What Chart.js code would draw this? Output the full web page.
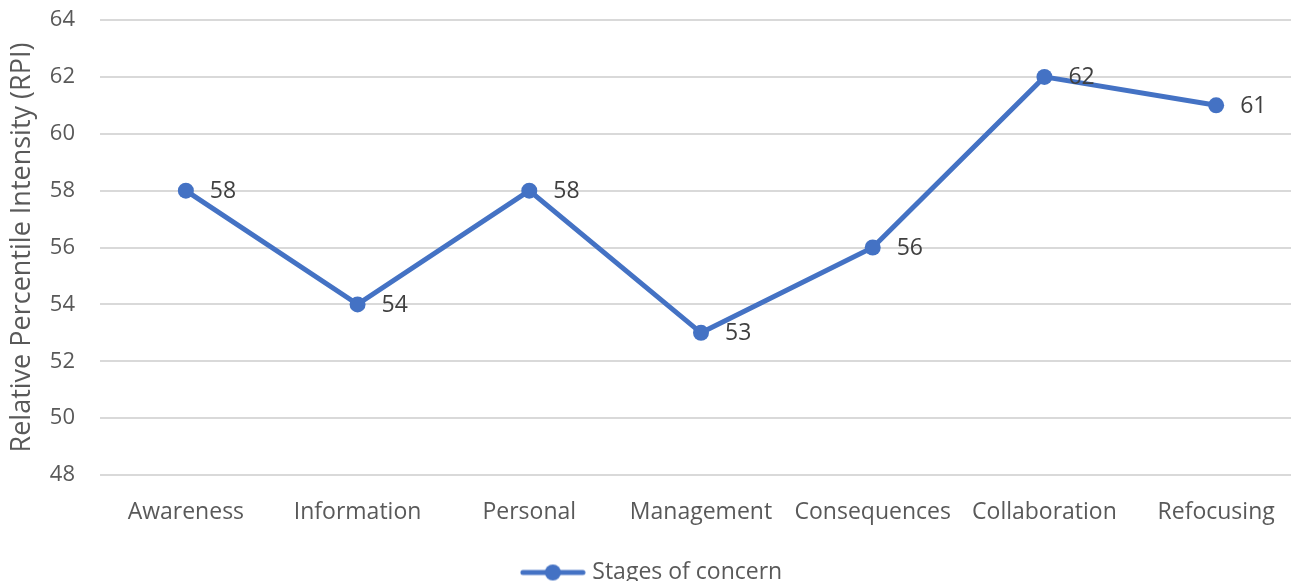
<!DOCTYPE html>
<html>
<head>
<meta charset="utf-8">
<script src="https://cdn.jsdelivr.net/npm/chart.js@4"></script>
<style>
  html, body { margin:0; padding:0; background:#fff; overflow:hidden; }
  canvas { display:block; }
</style>
</head>
<body>
<canvas id="chart" width="1310" height="600"></canvas>
<script>
// stages and RPI values
const stages = ['Awareness','Information','Personal','Management','Consequences','Collaboration','Refocusing'];
const rpi = [58, 54, 58, 53, 56, 62, 61];
const seriesName = 'Stages of concern';
const yTitle = 'Relative Percentile Intensity (RPI)';

const blue = '#4472C4';
const grey = '#595959';
const font = "'Open Sans', sans-serif";

// legend symbol: line with a dot in the middle
const sym = document.createElement('canvas');
sym.width = 66; sym.height = 18;
(function(){
    const c = sym.getContext('2d');
    c.strokeStyle = blue; c.lineWidth = 5; c.lineCap = 'round';
    c.beginPath(); c.moveTo(3, 9); c.lineTo(63, 9); c.stroke();
    c.fillStyle = blue;
    c.beginPath(); c.arc(33, 9, 8, 0, Math.PI*2); c.fill();
})();

// value labels to the right of each point
const valueLabels = {
    id: 'valueLabels',
    afterDatasetsDraw(chart) {
        const ctx = chart.ctx;
        const meta = chart.getDatasetMeta(0);
        ctx.save();
        ctx.font = '23px ' + font;
        ctx.fillStyle = '#404040';
        ctx.textAlign = 'left';
        ctx.textBaseline = 'middle';
        meta.data.forEach((pt, i) => {
            ctx.fillText(String(chart.data.datasets[0].data[i]), pt.x + 24, pt.y + 1);
        });
        ctx.restore();
    }
};

new Chart(document.getElementById('chart'), {
    type: 'line',
    data: {
        labels: stages,
        datasets: [{
            label: seriesName,
            data: rpi,
            borderColor: blue,
            backgroundColor: blue,
            borderWidth: 5,
            pointRadius: 8,
            pointHoverRadius: 8,
            pointBackgroundColor: blue,
            pointBorderWidth: 0,
            tension: 0,
            pointStyle: 'circle'
        }]
    },
    options: {
        responsive: false,
        devicePixelRatio: 1,
        animation: false,
        layout: { padding: { top: 20, right: 3, left: 0, bottom: 6 } },
        plugins: {
            tooltip: { enabled: false },
            legend: {
                position: 'bottom',
                labels: {
                    font: { size: 23, family: font },
                    color: grey,
                    padding: 10,
                    usePointStyle: true,
                    pointStyleWidth: 56,
                    generateLabels: (chart) => [{
                        text: seriesName,
                        pointStyle: sym,
                        fontColor: grey,
                        lineWidth: 0,
                        datasetIndex: 0
                    }]
                }
            }
        },
        scales: {
            x: {
                offset: true,
                grid: { display: false, drawTicks: false },
                border: { display: false },
                ticks: {
                    color: grey,
                    font: { size: 23, family: font },
                    padding: 24,
                    maxRotation: 0,
                    autoSkip: false
                },
                afterFit: (s) => { s.height = 76; }
            },
            y: {
                min: 48,
                max: 64,
                grid: { color: '#d9d9d9', lineWidth: 2, drawTicks: true, tickLength: 25, tickColor: 'rgba(0,0,0,0)' },
                border: { display: false },
                ticks: {
                    stepSize: 2,
                    color: grey,
                    font: { size: 22, family: font },
                    padding: 0
                },
                title: {
                    display: true,
                    text: yTitle,
                    color: grey,
                    font: { size: 27, family: font },
                    padding: { top: 6, bottom: 0 }
                },
                afterFit: (s) => { s.width = 100; }
            }
        }
    },
    plugins: [valueLabels]
});
</script>
</body>
</html>
